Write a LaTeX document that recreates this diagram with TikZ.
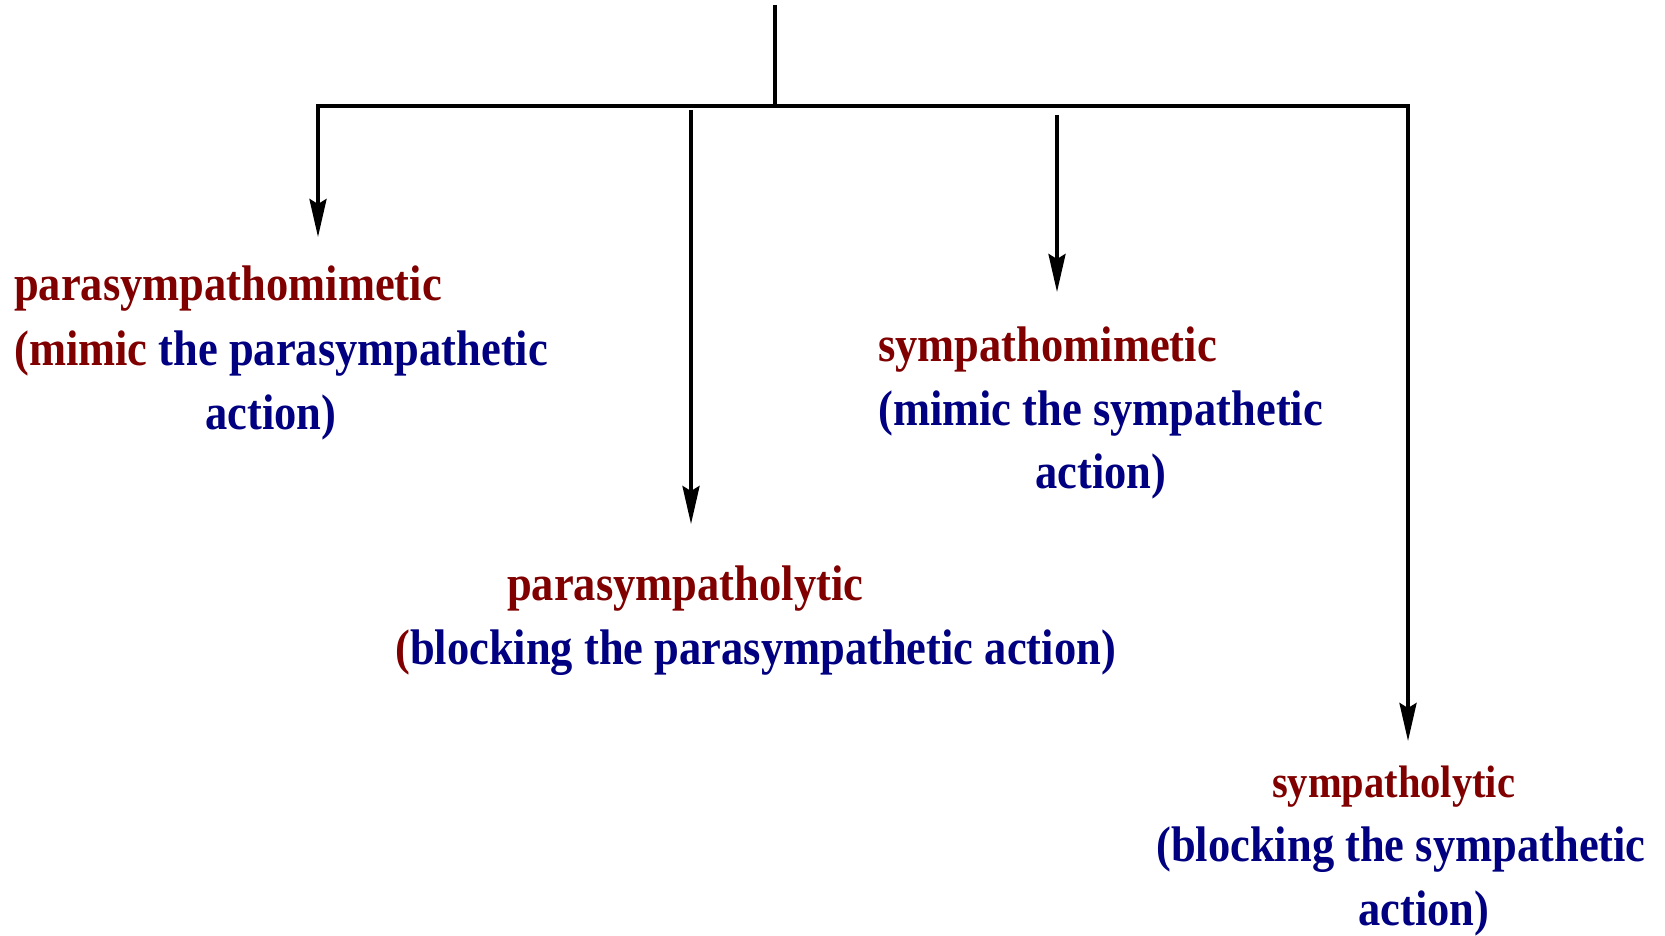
\documentclass[tikz,border=0pt]{standalone}
\usepackage{fontspec}
\setmainfont{Liberation Serif}[FakeStretch=0.89]
\usetikzlibrary{arrows.meta}
\definecolor{dred}{RGB}{128,0,0}
\definecolor{dblue}{RGB}{0,0,128}
\begin{document}
\begin{tikzpicture}[x=1pt,y=-1pt,
  conn/.style={line width=3.6pt,black},
  arr/.style={conn,-{Stealth[length=38pt,width=17pt,inset=5pt]}},
  lbl/.style={anchor=base west,inner sep=0pt,font=\fontsize{50}{60}\selectfont\bfseries},
  rt/.style={lbl,text=dred},
  bt/.style={lbl,text=dblue}]
\useasboundingbox (0,0) rectangle (1665,936);
% connectors
\coordinate (top) at (775,5);
\coordinate (j) at (775,106);
\coordinate (l) at (318,106);
\coordinate (r) at (1408,106);
\coordinate (s2) at (691,110);
\coordinate (s3) at (1057,115);
\coordinate (e1) at (318,237);
\coordinate (e2) at (691,524);
\coordinate (e3) at (1057,292);
\coordinate (e4) at (1408,741);
\draw[conn] (top) -- (j);
\draw[conn,line cap=rect] (l) -- (r);
\draw[arr] (l) -- (e1);
\draw[arr] (s2) -- (e2);
\draw[arr] (s3) -- (e3);
\draw[arr] (r) -- (e4);
% block 1
\node[rt] (a1) at (14,300) {parasympathomimetic};
\node[lbl] (a2) at (14,365) {\textcolor{dred}{(mimic} \textcolor{dblue}{the parasympathetic}};
\node[bt] (a3) at (205,429) {action)};
% block 2
\node[rt] (b1) at (507,600) {parasympatholytic};
\node[lbl] (b2) at (395,664) {\textcolor{dred}{(}\textcolor{dblue}{blocking the parasympathetic action)}};
% block 3
\node[rt] (c1) at (878,361) {sympathomimetic};
\node[bt] (c2) at (878,425) {(mimic the sympathetic};
\node[bt] (c3) at (1035,488) {action)};
% block 4
\node[rt,font=\fontsize{45.5}{55}\selectfont\bfseries] (d1) at (1272,797) {sympatholytic};
\node[bt] (d2) at (1156,861) {(blocking the sympathetic};
\node[bt] (d3) at (1358,925) {action)};
\end{tikzpicture}
\end{document}
